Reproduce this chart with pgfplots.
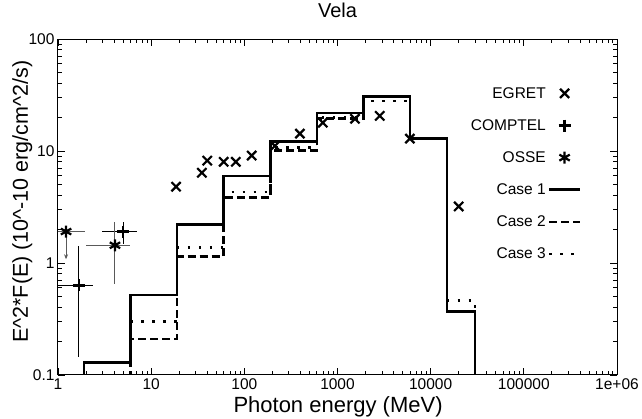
\documentclass[border=0pt]{standalone}
\usepackage{fontspec}
\setmainfont{Liberation Sans}
\usepackage{pgfplots}
\pgfplotsset{compat=1.18}
\usetikzlibrary{arrows.meta}
\begin{document}
\begin{tikzpicture}
\path[use as bounding box] (-58pt,-44pt) rectangle (584pt,375pt);
\begin{axis}[
  at={(0,0)}, anchor=south west,
  scale only axis, width=559pt, height=336pt,
  xmode=log, ymode=log,
  xmin=1, xmax=1e6, ymin=0.1, ymax=100,
  xtick={1,10,100,1000,10000,100000,1000000},
  xticklabels={1,10,100,1000,10000,100000,1e+06},
  ytick={0.1,1,10,100}, yticklabels={0.1,1,10,100},
  tick align=inside, major tick length=7pt, minor tick length=4pt,
  axis line style={line width=1pt},
  tick style={line width=0.8pt, black},
  tick label style={font=\fontsize{15.5}{18}\selectfont},
  title={Vela},
  title style={at={(axis description cs:0.5,1.066)}, anchor=center, font=\fontsize{20}{24}\selectfont},
  xlabel={Photon energy (MeV)},
  xlabel style={at={(axis description cs:0.501,-0.095)}, anchor=center, font=\fontsize{22}{26}\selectfont},
  ylabel={E\^{}2*F(E) (10\^{}-10 erg/cm\^{}2/s)},
  ylabel style={at={(axis description cs:-0.064,0.516)}, anchor=center, font=\fontsize{21.5}{26}\selectfont},
  legend plot pos=right,
  legend image code/.code={\draw[mark repeat=2,mark phase=2,#1] plot coordinates {(3pt,0pt) (18.5pt,0pt) (34pt,0pt)};},
  legend style={draw=none, fill=none, at={(axis description cs:0.942,0.869)}, anchor=north east,
    font=\fontsize{15.5}{18}\selectfont, nodes={font=\fontsize{15.5}{18}\selectfont},
    row sep=15.8pt, cells={anchor=east}},
]
% EGRET
\addplot[only marks, mark=x, mark size=6.5pt, line width=2.2pt] coordinates {
 (18.5,4.8) (35,6.4) (40,8.2) (60,8.0) (81,8.0) (120,9.1) (213,11.1) (395,14.3)
 (695,17.9) (1540,19.4) (2840,20.6) (5980,12.9) (20000,3.2)};
\addlegendentry{EGRET}
% COMPTEL
\addplot[only marks, mark=+, mark size=6pt, line width=2.2pt,
  error bars/.cd, x dir=both, x explicit, y dir=both, y explicit,
  error mark=none, error bar style={line width=1pt, black}] coordinates {
 (1.68,0.63) += (0.72,0.78) -= (0.93,0.485)
 (5,1.91) += (2.05,0.43) -= (2,0.44)};
\addlegendentry{COMPTEL}
% OSSE
\addplot[only marks, mark=asterisk, mark size=6pt, line width=2.2pt,
  error bars/.cd, x dir=both, x explicit, y dir=both, y explicit,
  error mark=none, error bar style={line width=1pt, black!65}] coordinates {
 (1.22,1.91) += (0.73,0) -= (0.42,0)
 (4.09,1.44) += (1.81,0.9) -= (2.09,0.79)};
\addlegendentry{OSSE}
% Case 1
\addplot[line width=2.6pt, const plot mark left] coordinates {
 (1.9,0.01) (1.9,0.13) (6,0.52) (19,2.2) (60,6.0) (190,12.1) (600,21.9)
 (1900,30.5) (6000,13.0) (15000,0.37) (30000,0.37) (30000,0.01)};
\addlegendentry{Case 1}
% Case 2
\addplot[line width=2.6pt, const plot mark left, dash pattern=on 8pt off 4pt] coordinates {
 (6,0.01) (6,0.21) (19,1.15) (60,3.85) (190,10.1) (600,19.5)
 (1900,30.5) (6000,12.9) (15000,0.37) (30000,0.37) (30000,0.01)};
\addlegendentry{Case 2}
% Case 3
\addplot[line width=2.6pt, const plot mark left, dash pattern=on 2.5pt off 8.5pt] coordinates {
 (6,0.01) (6,0.30) (19,1.38) (60,4.3) (190,10.7) (600,20.0)
 (1900,28.0) (6000,12.9) (15000,0.46) (30000,0.46) (30000,0.01)};
\addlegendentry{Case 3}
% OSSE upper limit arrow
\addplot[forget plot, black!65, line width=1pt, -{Stealth[length=5pt,width=4pt]}] coordinates {(1.22,1.91) (1.22,1.08)};
\end{axis}
\end{tikzpicture}
\end{document}
